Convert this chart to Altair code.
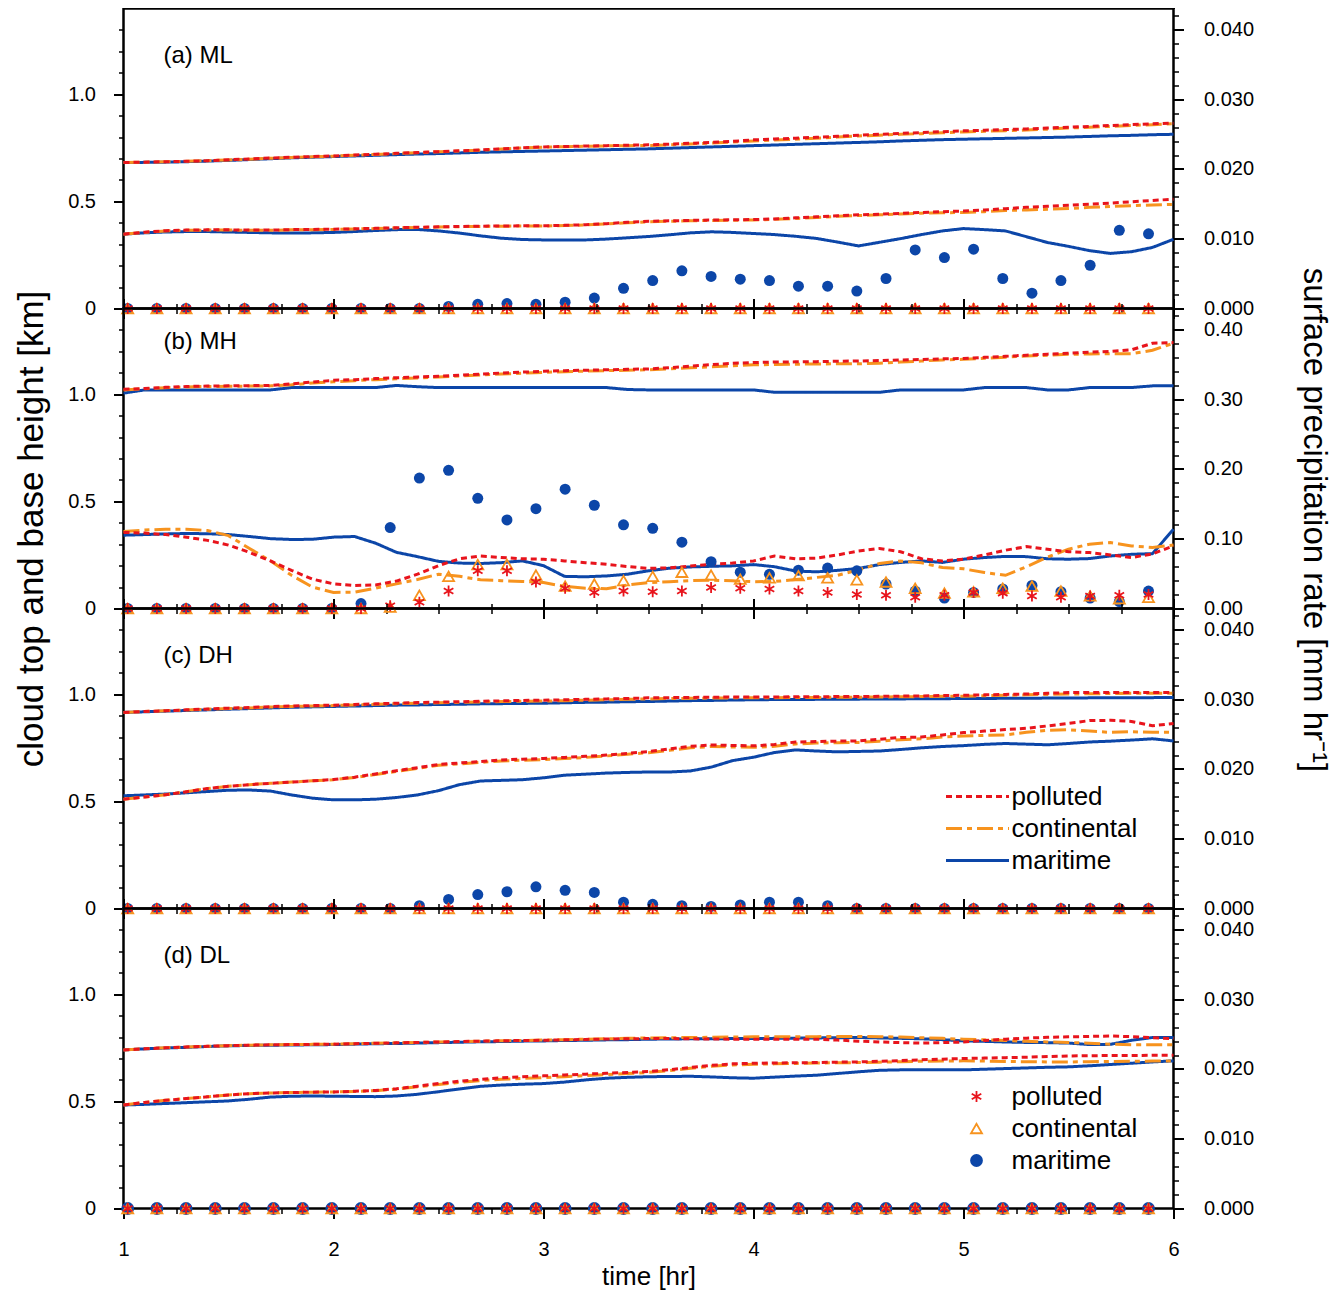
import altair as alt
import pandas as pd

FONT = "Liberation Sans"
RED = "#e8141c"
ORANGE = "#f7931e"
BLUE = "#0c46a8"

# ---------------- time grids ----------------
T = [1.0, 1.1, 1.2, 1.3, 1.4, 1.5, 1.6, 1.7, 1.8, 1.9,
     2.0, 2.1, 2.2, 2.3, 2.4, 2.5, 2.6, 2.7, 2.8, 2.9,
     3.0, 3.1, 3.2, 3.3, 3.4, 3.5, 3.6, 3.7, 3.8, 3.9,
     4.0, 4.1, 4.2, 4.3, 4.4, 4.5, 4.6, 4.7, 4.8, 4.9,
     5.0, 5.1, 5.2, 5.3, 5.4, 5.5, 5.6, 5.7, 5.8, 5.9, 6.0]

MARK_T = [1.020, 1.159, 1.298, 1.437, 1.576, 1.714, 1.853, 1.992, 2.131, 2.270,
          2.409, 2.548, 2.687, 2.826, 2.964, 3.103, 3.242, 3.381, 3.520, 3.659,
          3.798, 3.937, 4.076, 4.214, 4.353, 4.492, 4.631, 4.770, 4.909, 5.048,
          5.187, 5.326, 5.464, 5.603, 5.742, 5.881]

ZEROS = [0, 0, 0, 0, 0, 0, 0, 0, 0, 0, 0, 0, 0, 0, 0, 0, 0, 0,
         0, 0, 0, 0, 0, 0, 0, 0, 0, 0, 0, 0, 0, 0, 0, 0, 0, 0]

# ---------------- panel (a) ML ----------------
A_MAR_TOP = [.681, .682, .683, .685, .688, .691, .695, .699, .703, .706,
             .709, .712, .715, .718, .721, .723, .726, .729, .731, .733,
             .735, .737, .739, .741, .743, .745, .748, .751, .754, .757,
             .760, .763, .766, .769, .772, .775, .778, .782, .785, .788,
             .790, .792, .794, .796, .798, .800, .803, .806, .808, .811, .813]
A_POL_TOP = [.681, .683, .685, .687, .690, .694, .698, .702, .706, .709,
             .712, .716, .720, .724, .728, .732, .736, .740, .745, .750,
             .754, .756, .758, .760, .762, .764, .767, .771, .775, .780,
             .787, .791, .795, .799, .804, .809, .813, .817, .821, .825,
             .829, .832, .835, .838, .842, .846, .850, .854, .858, .862, .865]
A_CON_TOP = [.681, .683, .685, .687, .690, .693, .697, .701, .705, .708,
             .711, .715, .719, .723, .727, .731, .735, .739, .744, .749,
             .753, .755, .757, .759, .760, .761, .764, .768, .772, .777,
             .782, .786, .790, .795, .800, .805, .809, .813, .816, .820,
             .824, .827, .830, .833, .837, .842, .846, .850, .854, .858, .862]
A_MAR_BASE = [.347, .353, .357, .359, .359, .357, .355, .353, .352, .353,
              .355, .359, .364, .368, .369, .362, .352, .339, .328, .322,
              .320, .320, .320, .324, .330, .336, .344, .353, .358, .355,
              .350, .345, .337, .327, .310, .292, .309, .326, .345, .362,
              .373, .368, .362, .335, .308, .290, .270, .257, .265, .285, .323]
A_POL_BASE = [.347, .356, .363, .366, .367, .367, .366, .366, .368, .369,
              .370, .372, .374, .377, .379, .381, .383, .384, .385, .386,
              .386, .388, .391, .396, .402, .407, .409, .411, .413, .414,
              .415, .418, .423, .428, .433, .437, .440, .444, .448, .452,
              .455, .460, .466, .472, .477, .482, .487, .492, .498, .504, .510]
A_CON_BASE = [.347, .355, .362, .365, .366, .366, .365, .365, .367, .368,
              .369, .371, .373, .376, .378, .380, .382, .383, .384, .385,
              .385, .387, .390, .395, .400, .405, .407, .409, .411, .412,
              .413, .416, .420, .425, .430, .434, .437, .441, .445, .447,
              .448, .452, .457, .460, .463, .467, .472, .476, .480, .483, .486]
A_MAR_P = [0, 0, 0, 0, 0, 0, 0, 0, 0, 0,
           0, 0.0003, 0.0006, 0.0007, 0.0006, 0.0009, 0.0015, 0.0029, 0.0040, 0.0054,
           0.0046, 0.0042, 0.0040, 0.0032, 0.0032, 0.0025, 0.0043, 0.0084, 0.0073, 0.0085,
           0.0043, 0.0022, 0.0040, 0.0062, 0.0112, 0.0107]
A_CON_P = ZEROS
A_POL_P = ZEROS

# ---------------- panel (b) MH ----------------
B_MAR_TOP = [1.005, 1.020, 1.020, 1.020, 1.020, 1.020, 1.020, 1.020, 1.031, 1.031,
             1.031, 1.031, 1.031, 1.041, 1.035, 1.031, 1.031, 1.031, 1.031, 1.031,
             1.031, 1.031, 1.031, 1.031, 1.022, 1.020, 1.020, 1.020, 1.020, 1.020,
             1.020, 1.009, 1.009, 1.009, 1.009, 1.009, 1.009, 1.020, 1.020, 1.020,
             1.020, 1.031, 1.031, 1.031, 1.020, 1.020, 1.031, 1.031, 1.031, 1.039, 1.039]
B_POL_TOP = [1.023, 1.027, 1.032, 1.036, 1.038, 1.039, 1.040, 1.041, 1.048, 1.057,
             1.065, 1.068, 1.073, 1.077, 1.080, 1.084, 1.089, 1.094, 1.099, 1.103,
             1.107, 1.110, 1.112, 1.114, 1.116, 1.118, 1.124, 1.131, 1.138, 1.144,
             1.148, 1.150, 1.151, 1.152, 1.154, 1.155, 1.157, 1.160, 1.162, 1.165,
             1.167, 1.172, 1.177, 1.182, 1.187, 1.191, 1.196, 1.200, 1.207, 1.238, 1.241]
B_CON_TOP = [1.020, 1.025, 1.030, 1.034, 1.036, 1.037, 1.038, 1.039, 1.044, 1.052,
             1.058, 1.063, 1.068, 1.072, 1.076, 1.080, 1.085, 1.090, 1.094, 1.098,
             1.102, 1.105, 1.108, 1.110, 1.112, 1.114, 1.118, 1.123, 1.128, 1.133,
             1.137, 1.139, 1.140, 1.141, 1.142, 1.142, 1.145, 1.150, 1.155, 1.160,
             1.163, 1.168, 1.173, 1.178, 1.182, 1.186, 1.188, 1.189, 1.189, 1.205, 1.238]
B_MAR_BASE = [.342, .345, .348, .350, .349, .345, .336, .326, .322, .323,
              .333, .336, .305, .262, .242, .220, .212, .210, .214, .222,
              .200, .150, .148, .152, .160, .176, .188, .194, .197, .199,
              .205, .195, .175, .171, .178, .187, .205, .215, .222, .215,
              .230, .238, .243, .242, .232, .230, .233, .245, .253, .256, .370]
B_POL_BASE = [.355, .352, .345, .333, .318, .296, .262, .222, .178, .137,
              .115, .107, .110, .128, .160, .200, .232, .245, .238, .232,
              .230, .222, .214, .206, .196, .187, .190, .198, .207, .212,
              .222, .245, .232, .235, .250, .268, .280, .265, .232, .222,
              .230, .250, .272, .289, .276, .265, .261, .250, .238, .255, .292]
B_CON_BASE = [.359, .366, .370, .370, .364, .340, .280, .222, .155, .100,
              .075, .076, .095, .115, .135, .160, .150, .134, .130, .126,
              .121, .103, .095, .092, .110, .121, .125, .130, .132, .129,
              .125, .126, .135, .145, .155, .180, .210, .222, .213, .191,
              .185, .168, .155, .195, .240, .277, .300, .308, .292, .285, .296]
B_MAR_P = [0, 0, 0, 0, 0, 0, 0, 0, 0.007, 0.116,
           0.187, 0.198, 0.158, 0.127, 0.143, 0.171, 0.148, 0.120, 0.115, 0.095,
           0.067, 0.052, 0.049, 0.055, 0.058, 0.054, 0.035, 0.025, 0.015, 0.023,
           0.028, 0.033, 0.024, 0.015, 0.010, 0.025]
B_CON_P = [0, 0, 0, 0, 0, 0, 0, 0, 0, 0.002,
           0.019, 0.046, 0.063, 0.063, 0.048, 0.032, 0.035, 0.040, 0.046, 0.052,
           0.048, 0.042, 0.044, 0.047, 0.044, 0.041, 0.038, 0.029, 0.022, 0.024,
           0.029, 0.032, 0.025, 0.018, 0.014, 0.016]
B_POL_P = [0, 0, 0, 0, 0, 0, 0, 0, 0, 0.004,
           0.009, 0.025, 0.054, 0.054, 0.038, 0.029, 0.023, 0.025, 0.024, 0.025,
           0.030, 0.029, 0.028, 0.025, 0.023, 0.020, 0.019, 0.016, 0.019, 0.023,
           0.022, 0.018, 0.016, 0.018, 0.019, 0.020]

# ---------------- panel (c) DH ----------------
C_MAR_TOP = [.915, .918, .921, .924, .927, .930, .933, .936, .939, .941,
             .943, .945, .947, .949, .950, .952, .953, .955, .956, .957,
             .958, .960, .962, .963, .965, .966, .968, .970, .971, .973,
             .974, .975, .975, .976, .976, .977, .978, .978, .979, .979,
             .980, .980, .981, .981, .982, .982, .983, .983, .984, .984, .985]
C_POL_TOP = [.915, .919, .923, .927, .931, .935, .938, .942, .945, .947,
             .949, .952, .955, .958, .961, .963, .965, .967, .969, .971,
             .972, .974, .976, .978, .980, .983, .984, .985, .986, .987,
             .987, .987, .988, .988, .989, .989, .990, .991, .992, .994,
             .995, .997, .999, 1.001, 1.004, 1.008, 1.008, 1.008, 1.008, 1.008, 1.008]
C_CON_TOP = [.915, .919, .923, .926, .930, .933, .936, .940, .943, .945,
             .947, .950, .953, .956, .958, .960, .962, .964, .966, .967,
             .968, .970, .972, .974, .976, .978, .980, .981, .982, .983,
             .984, .984, .985, .985, .986, .986, .987, .988, .989, .990,
             .991, .993, .995, .997, .999, 1.001, 1.002, 1.003, 1.004, 1.004, 1.005]
C_MAR_BASE = [.526, .530, .534, .540, .546, .552, .553, .548, .530, .515,
              .507, .507, .510, .518, .530, .550, .578, .595, .598, .601,
              .610, .622, .627, .632, .635, .637, .637, .642, .660, .690,
              .706, .728, .740, .735, .731, .733, .735, .742, .750, .756,
              .760, .766, .770, .767, .764, .770, .777, .781, .786, .792, .782]
C_POL_BASE = [.510, .520, .531, .545, .560, .570, .578, .584, .590, .596,
              .602, .613, .628, .643, .657, .672, .679, .686, .693, .697,
              .700, .705, .710, .716, .724, .732, .745, .757, .763, .761,
              .759, .765, .777, .779, .781, .782, .790, .798, .800, .810,
              .821, .828, .835, .841, .852, .864, .877, .878, .873, .853, .863]
C_CON_BASE = [.510, .520, .531, .545, .560, .570, .578, .584, .590, .596,
              .601, .611, .625, .640, .654, .668, .675, .682, .688, .692,
              .695, .700, .705, .712, .720, .727, .738, .750, .756, .754,
              .752, .757, .768, .772, .774, .775, .781, .788, .792, .800,
              .805, .808, .810, .822, .832, .834, .828, .822, .825, .822, .822]
C_MAR_P = [0, 0, 0, 0, 0, 0, 0, 0, 0, 0,
           0.0004, 0.0013, 0.0020, 0.0024, 0.0031, 0.0026, 0.0023, 0.0009, 0.0006, 0.0004,
           0.0003, 0.0005, 0.0009, 0.0009, 0.0004, 0, 0, 0, 0, 0,
           0, 0, 0, 0, 0, 0]
C_CON_P = ZEROS
C_POL_P = ZEROS

# ---------------- panel (d) DL ----------------
D_MAR_TOP = [.740, .745, .749, .752, .756, .759, .761, .762, .763, .764,
             .765, .767, .769, .770, .772, .774, .776, .778, .779, .781,
             .782, .784, .785, .787, .788, .790, .791, .792, .792, .793,
             .793, .794, .795, .796, .797, .798, .796, .794, .792, .788,
             .782, .780, .777, .775, .774, .772, .765, .766, .785, .798, .798]
D_POL_TOP = [.740, .745, .750, .754, .757, .760, .762, .764, .765, .766,
             .767, .769, .771, .773, .775, .777, .779, .781, .783, .784,
             .785, .787, .789, .791, .792, .793, .793, .792, .791, .790,
             .790, .790, .790, .790, .786, .781, .777, .774, .772, .774,
             .777, .784, .790, .795, .799, .801, .803, .805, .802, .797, .793]
D_CON_TOP = [.740, .745, .750, .754, .757, .760, .762, .764, .765, .766,
             .767, .769, .771, .773, .775, .777, .779, .781, .783, .784,
             .786, .788, .790, .792, .794, .796, .797, .798, .799, .800,
             .801, .801, .802, .802, .803, .803, .802, .800, .797, .794,
             .790, .787, .784, .780, .777, .775, .771, .767, .764, .764, .764]
D_MAR_BASE = [.483, .486, .490, .494, .498, .502, .510, .520, .524, .525,
              .524, .523, .522, .525, .533, .545, .558, .570, .576, .580,
              .583, .590, .600, .608, .612, .615, .616, .617, .614, .610,
              .608, .613, .618, .622, .630, .638, .645, .647, .647, .647,
              .647, .650, .653, .656, .659, .661, .666, .672, .678, .684, .689]
D_POL_BASE = [.483, .495, .505, .513, .521, .530, .536, .539, .541, .543,
              .544, .547, .551, .559, .571, .583, .594, .603, .610, .615,
              .619, .623, .627, .631, .635, .639, .648, .658, .668, .675,
              .678, .679, .680, .681, .683, .684, .687, .690, .694, .697,
              .700, .702, .704, .706, .709, .712, .713, .714, .714, .715, .715]
D_CON_BASE = [.483, .495, .505, .513, .521, .530, .536, .539, .541, .543,
              .544, .546, .550, .557, .568, .579, .589, .597, .603, .607,
              .611, .615, .620, .625, .630, .635, .644, .654, .664, .670,
              .673, .675, .677, .679, .680, .681, .683, .685, .687, .688,
              .689, .688, .686, .685, .684, .684, .685, .686, .687, .688, .689]
D_MAR_P = ZEROS
D_CON_P = ZEROS
D_POL_P = ZEROS

# ---------------- axis tick values ----------------
X_MAJOR = [1, 2, 3, 4, 5, 6]
X_MINOR = [1.25, 1.5, 1.75, 2.25, 2.5, 2.75, 3.25, 3.5, 3.75,
           4.25, 4.5, 4.75, 5.25, 5.5, 5.75]
H_MAJOR = [0, 0.5, 1.0]
H_MINOR = [0.1, 0.2, 0.3, 0.4, 0.6, 0.7, 0.8, 0.9, 1.1, 1.2, 1.3]
P_MAJOR = [0, 0.01, 0.02, 0.03, 0.04]
P_MINOR = [0.002, 0.004, 0.006, 0.008, 0.012, 0.014, 0.016, 0.018, 0.022, 0.024,
           0.026, 0.028, 0.032, 0.034, 0.036, 0.038, 0.042]
PB_MAJOR = [0, 0.1, 0.2, 0.3, 0.4]
PB_MINOR = [0.02, 0.04, 0.06, 0.08, 0.12, 0.14, 0.16, 0.18, 0.22, 0.24,
            0.26, 0.28, 0.32, 0.34, 0.36, 0.38, 0.42]

LEGEND_ORDER = ["polluted", "continental", "maritime"]
LINE_COLORS = {"polluted": RED, "continental": ORANGE, "maritime": BLUE}
LINE_DASHES = {"polluted": [6, 4], "continental": [16, 5, 5, 5], "maritime": [1, 0]}
ASTERISK = "M0,-1L0,1M-0.87,-0.5L0.87,0.5M-0.87,0.5L0.87,-0.5"
# (shape, stroke colour, filled) for each precipitation series
POINT_STYLE = {"maritime": ("circle", BLUE, True),
               "continental": ("triangle-up", ORANGE, False),
               "polluted": (ASTERISK, RED, False)}


def lines_frame(mar_top, con_top, pol_top, mar_base, con_base, pol_base):
    rows = []
    for case, kind, vals in [("maritime", "top", mar_top), ("maritime", "base", mar_base),
                             ("continental", "top", con_top), ("continental", "base", con_base),
                             ("polluted", "top", pol_top), ("polluted", "base", pol_base)]:
        assert len(vals) == len(T), (case, kind, len(vals))
        for t, v in zip(T, vals):
            rows.append({"t": t, "h": v, "case": case, "kind": kind})
    return pd.DataFrame(rows)


def points_frame(mar, con, pol):
    rows = []
    for case, vals in [("maritime", mar), ("continental", con), ("polluted", pol)]:
        assert len(vals) == len(MARK_T), (case, len(vals))
        for t, v in zip(MARK_T, vals):
            rows.append({"t": t, "p": v, "ptype": case})
    return pd.DataFrame(rows)


COMMON = dict(grid=False, domain=False, tickColor="black", labelColor="black",
              titleColor="black", labelFlush=False, labelOverlap=False)


def make_panel(ldf, pdf, pmax, r_major, r_minor, r_fmt, tag, tag_y,
               left_title=None, right_title=None, line_legend=None,
               point_legend=None, show_x=False):
    xs = alt.Scale(domain=[1, 6], nice=False, zero=False)
    hs = alt.Scale(domain=[0, 1.4], nice=False, zero=False)
    ps = alt.Scale(domain=[0, pmax], nice=False, zero=False)

    xb_kw = dict(orient="bottom", values=X_MAJOR, tickSize=10, tickWidth=2,
                 labels=show_x, format="d", labelFontSize=20, labelPadding=21, **COMMON)
    if show_x:
        xb_kw.update(title="time [hr]", titleFontSize=26, titleFontWeight="normal",
                     titlePadding=4)
    else:
        xb_kw.update(title=None)
    x_bottom = alt.Axis(**xb_kw)
    x_top = alt.Axis(orient="top", values=X_MAJOR, tickSize=10, tickWidth=2,
                     labels=False, title=None, **COMMON)
    x_bmin = alt.Axis(orient="bottom", values=X_MINOR, tickSize=5, tickWidth=1.5,
                      labels=False, title=None, **COMMON)
    x_tmin = alt.Axis(orient="top", values=X_MINOR, tickSize=5, tickWidth=1.5,
                      labels=False, title=None, **COMMON)

    yl_kw = dict(orient="left", values=H_MAJOR,
                 labelExpr="datum.value == 0 ? '0' : format(datum.value, '.1f')",
                 tickSize=10, tickWidth=2, labelFontSize=20, labelPadding=18, **COMMON)
    if left_title:
        yl_kw.update(title=left_title, titleFontSize=35, titleFontWeight="normal",
                     titleX=-92, titleY=220, titleAngle=270, titleBaseline="middle",
                     titleAlign="center")
    else:
        yl_kw.update(title=None)
    y_left = alt.Axis(**yl_kw)
    y_lmin = alt.Axis(orient="left", values=H_MINOR, tickSize=5, tickWidth=1.5,
                      labels=False, title=None, **COMMON)

    yr_kw = dict(orient="right", values=r_major, format=r_fmt, tickSize=10, tickWidth=2,
                 labelFontSize=20, labelPadding=20, **COMMON)
    if right_title:
        yr_kw.update(title=right_title, titleFontSize=33, titleFontWeight="normal",
                     titleX=140, titleY=211, titleAngle=90, titleBaseline="middle",
                     titleAlign="center")
    else:
        yr_kw.update(title=None)
    y_right = alt.Axis(**yr_kw)
    y_rmin = alt.Axis(orient="right", values=r_minor, tickSize=5, tickWidth=1.5,
                      labels=False, title=None, **COMMON)

    # order of the line scale domain: the legend order when the legend is shown,
    # otherwise a different order so that the hidden legend never merges with others
    ldom = LEGEND_ORDER if line_legend is not None else ["maritime", "continental", "polluted"]

    layers = []
    layers.append(alt.Chart(ldf).mark_point(opacity=0, size=1).encode(
        x=alt.X("t:Q", scale=xs, axis=x_bmin),
        y=alt.Y("h:Q", scale=hs, axis=y_lmin),
    ))
    layers.append(alt.Chart(pdf).mark_point(opacity=0, size=1).encode(
        x=alt.X("t:Q", scale=xs, axis=x_tmin),
        y=alt.Y("p:Q", scale=ps, axis=y_rmin),
    ))
    layers.append(alt.Chart(ldf).mark_line(strokeWidth=3).encode(
        x=alt.X("t:Q", scale=xs, axis=x_bottom),
        y=alt.Y("h:Q", scale=hs, axis=y_left),
        color=alt.Color("case:N", scale=alt.Scale(domain=ldom,
                                                    range=[LINE_COLORS[c] for c in ldom]),
                        legend=line_legend),
        strokeDash=alt.StrokeDash("case:N", scale=alt.Scale(domain=ldom,
                                                             range=[LINE_DASHES[c] for c in ldom]),
                                  legend=line_legend),
        detail="kind:N",
    ))
    if point_legend is not None:
        layers.append(alt.Chart(pdf).mark_point(size=121, strokeWidth=1.8, opacity=1,
                                                filled=False).encode(
            x=alt.X("t:Q", scale=xs, axis=x_top),
            y=alt.Y("p:Q", scale=ps, axis=y_right),
            shape=alt.Shape("ptype:N", scale=alt.Scale(domain=LEGEND_ORDER,
                                                         range=[ASTERISK, "triangle-up", "circle"]),
                            legend=point_legend),
            stroke=alt.Stroke("ptype:N", scale=alt.Scale(domain=LEGEND_ORDER,
                                                           range=[RED, ORANGE, BLUE]),
                              legend=point_legend),
            fill=alt.Fill("ptype:N", scale=alt.Scale(domain=LEGEND_ORDER,
                                                       range=["transparent", "transparent", BLUE]),
                          legend=point_legend),
        ))
    else:
        first = True
        for case in ["maritime", "continental", "polluted"]:
            shape, col, filled = POINT_STYLE[case]
            sub = pdf[pdf["ptype"] == case]
            layers.append(alt.Chart(sub).mark_point(
                shape=shape, color=col, filled=filled, size=121, strokeWidth=1.8,
                opacity=1).encode(
                x=alt.X("t:Q", scale=xs, axis=x_top if first else None),
                y=alt.Y("p:Q", scale=ps, axis=y_right if first else None),
            ))
            first = False
    layers.append(alt.Chart(pd.DataFrame({"tag": [tag]})).mark_text(
        align="left", baseline="middle", fontSize=24, color="black").encode(
        x=alt.value(40), y=alt.value(tag_y), text="tag:N"))

    return (alt.layer(*layers)
            .resolve_scale(y="independent")
            .resolve_axis(x="independent", y="independent")
            .properties(width=1050, height=300))


line_leg = alt.Legend(orient="none", legendX=841, legendY=175, title=None,
                      symbolType="M-3,0H3", symbolSize=441, symbolStrokeWidth=3,
                      labelFontSize=26, labelOffset=21, rowPadding=6, padding=0,
                      labelColor="black")
point_leg = alt.Legend(orient="none", legendX=840, legendY=175, title=None,
                       symbolSize=121, symbolStrokeWidth=1.8, labelFontSize=26,
                       labelOffset=22, rowPadding=6, padding=0, labelColor="black")

pa = make_panel(lines_frame(A_MAR_TOP, A_CON_TOP, A_POL_TOP, A_MAR_BASE, A_CON_BASE, A_POL_BASE),
                points_frame(A_MAR_P, A_CON_P, A_POL_P),
                0.043, P_MAJOR, P_MINOR, ".3f", "(a) ML", 47)
pb = make_panel(lines_frame(B_MAR_TOP, B_CON_TOP, B_POL_TOP, B_MAR_BASE, B_CON_BASE, B_POL_BASE),
                points_frame(B_MAR_P, B_CON_P, B_POL_P),
                0.43, PB_MAJOR, PB_MINOR, ".2f", "(b) MH", 33,
                left_title="cloud top and base height [km]",
                right_title="surface precipitation rate [mm hr\u207b\u00b9]")
pc = make_panel(lines_frame(C_MAR_TOP, C_CON_TOP, C_POL_TOP, C_MAR_BASE, C_CON_BASE, C_POL_BASE),
                points_frame(C_MAR_P, C_CON_P, C_POL_P),
                0.043, P_MAJOR, P_MINOR, ".3f", "(c) DH", 47, line_legend=line_leg)
pd_ = make_panel(lines_frame(D_MAR_TOP, D_CON_TOP, D_POL_TOP, D_MAR_BASE, D_CON_BASE, D_POL_BASE),
                 points_frame(D_MAR_P, D_CON_P, D_POL_P),
                 0.043, P_MAJOR, P_MINOR, ".3f", "(d) DL", 47, point_legend=point_leg,
                 show_x=True)

chart = (alt.vconcat(pa, pb, pc, pd_, spacing=0, bounds="flush")
         .resolve_scale(color="independent", strokeDash="independent", shape="independent",
                        stroke="independent", fill="independent")
         .properties(padding={"left": 4.5, "top": -12.5, "right": 4, "bottom": -2})
         .configure(font=FONT)
         .configure_view(stroke="black", strokeWidth=2.5)
         .configure_legend(labelFont=FONT))

chart.save("out.html", embed_options={"renderer": "svg", "actions": False})
